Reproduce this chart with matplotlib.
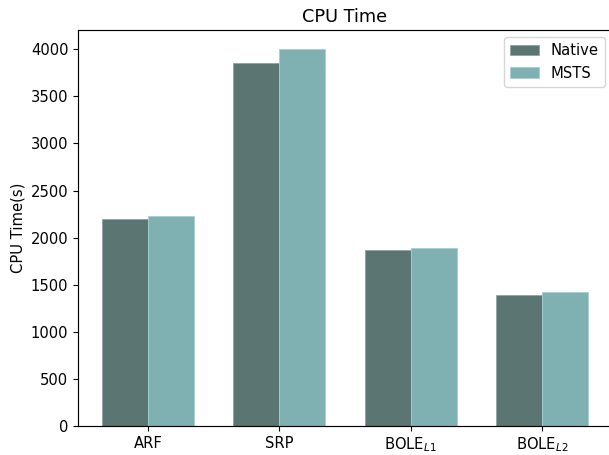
import matplotlib
matplotlib.use("Agg")
import matplotlib.pyplot as plt
import numpy as np

categories = ["ARF", "SRP", r"BOLE$_{L1}$", r"BOLE$_{L2}$"]
native = [2195, 3850, 1870, 1390]
msts = [2225, 4005, 1890, 1420]

plt.rcParams["font.size"] = 10.6
plt.rcParams["axes.linewidth"] = 0.85

fig = plt.figure(figsize=(6.09, 4.55), dpi=100)
ax = fig.add_axes([78/609, 29/455, (612-78)/609, 396/455])

x = np.arange(len(categories))
w = 0.35
ax.bar(x - w/2, native, w, color="#5b7572", edgecolor="#8fa5a3", linewidth=0.6, label="Native")
ax.bar(x + w/2, msts, w, color="#80b1b2", edgecolor="#a8cfd0", linewidth=0.6, label="MSTS")
ax.set_xticks(x)
ax.set_xticklabels(categories)
ax.set_ylabel("CPU Time(s)")
ax.set_title("CPU Time")
ax.legend(loc="upper right")

fig.savefig("out.png", dpi=100)
